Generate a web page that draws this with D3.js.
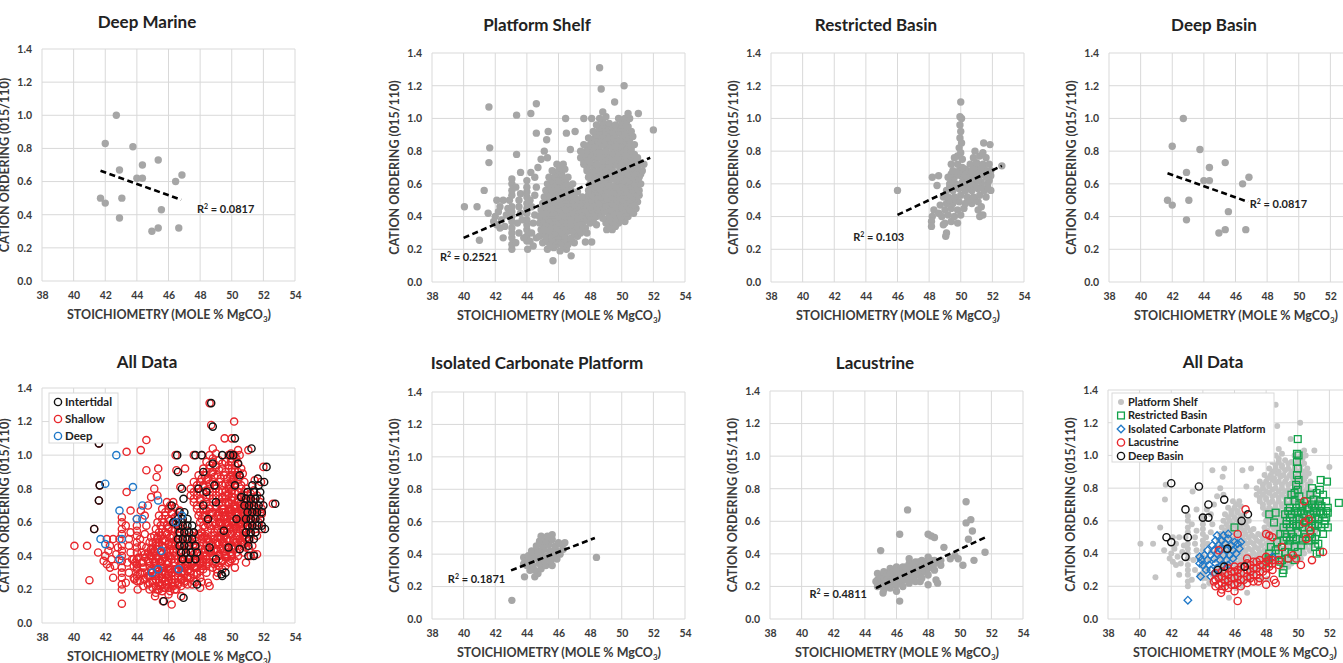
<!DOCTYPE html>
<meta charset="utf-8">
<title>Cation ordering vs stoichiometry</title>
<script src="https://cdn.jsdelivr.net/npm/d3@7"></script>
<style>
  body { margin: 0; background: #fff; }
  text { font-family: Lato, "Open Sans", sans-serif; font-weight: bold; }
</style>
<body>
<script>

var xTicks = [38, 40, 42, 44, 46, 48, 50, 52, 54];
var yTicks = [0, 0.2, 0.4, 0.6, 0.8, 1.0, 1.2, 1.4];

// deep marine / deep basin samples
var deepMarine = [
  [41.7,0.50],[42.0,0.47],[42.0,0.83],[42.7,1.00],[42.9,0.67],[43.05,0.50],[42.9,0.38],[43.75,0.81],
  [44.0,0.62],[44.35,0.62],[44.35,0.70],[45.35,0.73],[45.55,0.43],[44.95,0.30],[45.35,0.32],[46.45,0.60],
  [46.85,0.64],[46.65,0.32]
];

var platformShelf = [
  [48.6,1.31],[48.7,1.18],[50.15,1.2],[49.55,1.1],[41.6,1.07],[43.35,1.02],[44.25,1.03],[44.6,1.09],
  [44.6,0.91],[45.35,0.92],[45.25,0.87],[46.45,1.0],[46.5,0.91],[47.05,0.92],[47.6,1.0],[48.1,1.0],
  [46.75,0.81],[41.65,0.82],[41.6,0.73],[41.3,0.56],[40.05,0.46],[40.85,0.46],[41.0,0.255],[41.55,0.42],
  [43.35,0.78],[43.6,0.67],[44.25,0.67],[43.05,0.2],[44.05,0.2],[45.65,0.13],[46.8,0.16],[52.0,0.93],
  [51.05,1.03],[42.5,0.27],[49.05,0.32],[51.4,0.72],[51.05,0.61],[50.7,0.47],[50.75,0.42],
  [42.1,0.5],[42.5,0.5],[42.9,0.5],[43.5,0.5],[44.2,0.5],
  [42.0,0.4],[42.1,0.35],[42.3,0.33],[42.4,0.38],[42.7,0.41],[42.8,0.45],[42.2,0.43],[41.9,0.37],[42.6,0.34],[42.3,0.46],
  [43.05,0.23],[43.05,0.27],[43.05,0.3],[43.05,0.33],[43.05,0.37],[43.05,0.4],[43.05,0.43],[43.05,0.46],
  [43.05,0.53],[43.05,0.56],[43.05,0.6],[43.05,0.63],
  [44.0,0.25],[44.0,0.28],[44.0,0.32],[44.0,0.35],[44.0,0.38],[44.0,0.42],[44.0,0.45],[44.0,0.48],
  [44.0,0.52],[44.0,0.55],[44.0,0.58],[44.0,0.62],
  [43.5,0.3],[43.4,0.36],[43.6,0.42],[43.5,0.46],[43.6,0.54],[43.3,0.58],[43.3,0.24],[43.7,0.38],[43.8,0.27],
  [44.3,0.3],[44.4,0.36],[44.5,0.41],[44.3,0.46],[44.5,0.53],[44.6,0.58],[44.2,0.25],[44.6,0.27],
  [44.5,0.64],[44.7,0.7],[44.9,0.75],[45.1,0.8],[45.3,0.76],[44.4,0.22],
  [45.3,0.2],[45.7,0.21],[46.1,0.19],[46.5,0.2],
  [45.5,0.22],[45.9,0.23],[46.3,0.22],
  [45.0,0.24],[45.4,0.24],[45.8,0.25],[46.2,0.24],[46.6,0.23],[47.0,0.24],[47.7,0.245],[48.1,0.245],
  [45.2,0.26],[45.6,0.26],[46.0,0.27],[46.4,0.26],[46.8,0.26],
  [44.8,0.28],[45.2,0.28],[45.6,0.29],[46.0,0.28],[46.4,0.28],[46.8,0.27],[47.2,0.28],[47.8,0.3],
  [45.0,0.3],[45.4,0.31],[45.8,0.3],[46.2,0.3],[46.6,0.31],[47.0,0.3],[47.4,0.3],
  [44.9,0.32],[45.3,0.32],[45.7,0.33],[46.1,0.32],[46.5,0.32],[46.9,0.31],[47.3,0.32],[47.7,0.33],[49.4,0.32],[49.8,0.36],
  [45.1,0.34],[45.5,0.34],[45.9,0.35],[46.3,0.34],[46.7,0.34],[47.1,0.34],[47.5,0.35],[49.2,0.34],[49.6,0.34],
  [44.8,0.36],[45.2,0.36],[45.6,0.37],[46.0,0.36],[46.4,0.36],[46.8,0.35],[47.2,0.36],[47.6,0.37],[48.0,0.36],[48.4,0.35],
  [49.0,0.36],[49.4,0.37],[50.2,0.37],
  [45.0,0.38],[45.4,0.38],[45.8,0.39],[46.2,0.38],[46.6,0.38],[47.0,0.38],[47.4,0.39],[47.8,0.38],[48.2,0.38],
  [49.2,0.38],[49.6,0.39],[50.0,0.38],
  [44.8,0.4],[45.2,0.4],[45.6,0.41],[46.0,0.4],[46.4,0.4],[46.8,0.39],[47.2,0.4],[47.6,0.41],[48.0,0.4],[48.4,0.4],
  [48.8,0.39],[49.2,0.4],[49.6,0.41],[50.0,0.4],[50.4,0.4],
  [45.1,0.42],[45.5,0.42],[45.9,0.43],[46.3,0.42],[46.7,0.42],[47.1,0.42],[47.5,0.43],[47.9,0.42],[48.3,0.42],
  [48.7,0.42],[49.1,0.43],[49.5,0.42],[49.9,0.42],[50.3,0.42],
  [44.9,0.44],[45.3,0.44],[45.7,0.45],[46.1,0.44],[46.5,0.44],[46.9,0.43],[47.3,0.44],[47.7,0.45],[48.1,0.44],[48.5,0.44],
  [48.9,0.43],[49.3,0.44],[49.7,0.45],[50.1,0.44],[50.5,0.44],[50.9,0.45],
  [45.2,0.46],[45.6,0.46],[46.0,0.47],[46.4,0.46],[46.8,0.46],[47.2,0.46],[47.6,0.47],[48.0,0.46],[48.4,0.46],
  [48.8,0.46],[49.2,0.47],[49.6,0.46],[50.0,0.46],[50.4,0.46],[50.8,0.47],
  [45.0,0.48],[45.4,0.48],[45.8,0.49],[46.2,0.48],[46.6,0.48],[47.0,0.47],[47.4,0.48],[47.8,0.49],[48.2,0.48],[48.6,0.48],
  [49.0,0.47],[49.4,0.48],[49.8,0.49],[50.2,0.48],[50.6,0.48],[51.0,0.49],
  [45.3,0.5],[45.7,0.5],[46.1,0.51],[46.5,0.5],[46.9,0.5],[47.3,0.5],[47.7,0.51],[48.1,0.5],[48.5,0.5],
  [48.9,0.5],[49.3,0.51],[49.7,0.5],[50.1,0.5],[50.5,0.5],[50.9,0.51],
  [45.1,0.52],[45.5,0.52],[45.9,0.53],[46.3,0.52],[46.7,0.52],[47.1,0.51],[47.5,0.52],[47.9,0.53],[48.3,0.52],[48.7,0.52],
  [49.1,0.51],[49.5,0.52],[49.9,0.53],[50.3,0.52],[50.7,0.52],[51.1,0.53],
  [45.4,0.54],[45.8,0.54],[46.2,0.55],[46.6,0.54],[47.0,0.54],[48.1,0.54],[48.5,0.55],[48.9,0.54],[49.3,0.54],
  [49.7,0.54],[50.1,0.55],[50.5,0.54],[50.9,0.54],
  [45.2,0.56],[45.6,0.56],[46.0,0.57],[46.4,0.56],[46.8,0.56],[47.2,0.55],[47.9,0.56],[48.3,0.57],[48.7,0.56],[49.1,0.56],
  [49.5,0.55],[49.9,0.56],[50.3,0.57],[50.7,0.56],[51.1,0.56],
  [45.5,0.58],[45.9,0.58],[46.3,0.59],[46.7,0.58],[48.2,0.58],[48.6,0.58],[49.0,0.59],[49.4,0.58],[49.8,0.58],
  [50.2,0.58],[50.6,0.59],[51.0,0.58],
  [45.3,0.6],[45.7,0.6],[46.1,0.61],[46.5,0.6],[46.9,0.6],[48.0,0.6],[48.4,0.61],[48.8,0.6],[49.2,0.6],[49.6,0.59],
  [50.0,0.6],[50.4,0.61],[50.8,0.6],[51.2,0.6],
  [45.6,0.62],[46.0,0.62],[46.4,0.63],[48.1,0.62],[48.5,0.62],[48.9,0.62],[49.3,0.63],[49.7,0.62],[50.1,0.62],
  [50.5,0.62],[50.9,0.63],
  [45.4,0.64],[45.8,0.64],[46.2,0.65],[46.6,0.64],[47.9,0.64],[48.3,0.64],[48.7,0.65],[49.1,0.64],[49.5,0.63],[49.9,0.64],
  [50.3,0.65],[50.7,0.64],[51.1,0.64],
  [45.8,0.66],[46.2,0.66],[48.0,0.66],[48.4,0.67],[48.8,0.66],[49.2,0.66],[49.6,0.66],[50.0,0.67],[50.4,0.66],
  [50.8,0.66],[51.2,0.66],
  [45.6,0.68],[46.0,0.68],[46.4,0.69],[47.8,0.68],[48.2,0.68],[48.6,0.68],[49.0,0.69],[49.4,0.68],[49.8,0.67],[50.2,0.68],
  [50.6,0.69],[51.0,0.68],[51.3,0.68],
  [46.1,0.7],[47.8,0.7],[48.2,0.71],[48.6,0.7],[49.0,0.7],[49.4,0.7],[49.8,0.71],[50.2,0.7],[50.6,0.7],[51.0,0.7],
  [45.9,0.72],[46.3,0.72],[47.6,0.72],[48.0,0.73],[48.4,0.72],[48.8,0.72],[49.2,0.71],[49.6,0.72],[50.0,0.73],[50.4,0.72],
  [50.8,0.72],[51.2,0.73],
  [47.6,0.74],[48.0,0.74],[48.4,0.75],[48.8,0.74],[49.2,0.74],[49.6,0.74],[50.0,0.75],[50.4,0.74],[50.8,0.74],
  [47.4,0.76],[47.8,0.76],[48.2,0.77],[48.6,0.76],[49.0,0.76],[49.4,0.75],[49.8,0.76],[50.2,0.77],[50.6,0.76],[51.0,0.76],
  [47.6,0.78],[48.0,0.78],[48.4,0.79],[48.8,0.78],[49.2,0.78],[49.6,0.78],[50.0,0.79],[50.4,0.78],[50.8,0.78],
  [47.4,0.8],[47.8,0.8],[48.2,0.81],[48.6,0.8],[49.0,0.8],[49.4,0.79],[49.8,0.8],[50.2,0.81],[50.6,0.8],
  [47.8,0.82],[48.2,0.82],[48.6,0.83],[49.0,0.82],[49.4,0.82],[49.8,0.82],[50.2,0.83],[50.6,0.82],
  [47.6,0.84],[48.0,0.84],[48.4,0.85],[48.8,0.84],[49.2,0.84],[49.6,0.83],[50.0,0.84],[50.4,0.85],[50.8,0.84],
  [48.1,0.86],[48.5,0.86],[48.9,0.87],[49.3,0.86],[49.7,0.86],[50.1,0.86],[50.5,0.87],
  [47.9,0.88],[48.3,0.88],[48.7,0.89],[49.1,0.88],[49.5,0.88],[49.9,0.87],[50.3,0.88],[50.7,0.89],
  [48.4,0.9],[48.8,0.9],[49.2,0.91],[49.6,0.9],[50.0,0.9],[50.4,0.9],
  [48.2,0.92],[48.6,0.92],[49.0,0.93],[49.4,0.92],[49.8,0.92],[50.2,0.91],[50.6,0.92],
  [48.6,0.94],[49.0,0.94],[49.4,0.95],[49.8,0.94],[50.2,0.94],
  [48.4,0.96],[48.8,0.96],[49.2,0.97],[49.6,0.96],[50.0,0.96],[50.4,0.95],
  [48.8,0.98],[50.0,0.98],[50.3,0.98],
  [48.6,1.0],[49.0,1.01],[49.8,1.0],[50.2,1.0],[50.5,1.0],[48.8,1.04],[50.4,1.03]
];

var restrictedBasin = [
  [46.0,0.56],[50.0,1.1],[49.95,1.01],[50.05,1.0],[49.95,0.96],[50.0,0.92],[49.95,0.88],[50.05,0.85],
  [49.9,0.82],[50.0,0.79],[49.8,0.77],[50.1,0.75],[51.45,0.85],[51.85,0.84],[52.6,0.71],
  [48.2,0.64],[48.6,0.65],[48.5,0.59],[48.3,0.44],[48.2,0.4],[48.15,0.37],[48.15,0.34],[48.6,0.42],
  [48.9,0.35],[49.1,0.3],[49.05,0.28],[48.7,0.47],[48.9,0.52],
  [49.0,0.36],[49.4,0.37],[49.8,0.36],
  [48.8,0.4],[49.2,0.41],[49.6,0.4],[50.0,0.41],[51.2,0.4],[51.4,0.41],
  [49.0,0.44],[49.4,0.45],[49.8,0.44],[50.2,0.45],[51.1,0.44],[51.3,0.46],
  [49.1,0.48],[49.5,0.48],[49.9,0.49],[50.3,0.48],[50.7,0.48],[51.1,0.49],
  [49.3,0.5],[49.7,0.5],[50.5,0.5],[50.9,0.5],
  [49.2,0.52],[49.6,0.52],[50.0,0.53],[50.4,0.52],[50.8,0.52],[51.2,0.53],[51.6,0.52],
  [49.1,0.56],[49.5,0.56],[49.9,0.57],[50.3,0.56],[50.7,0.56],[51.1,0.57],[51.5,0.56],[51.9,0.56],
  [49.3,0.58],[49.7,0.58],[50.1,0.58],[50.5,0.59],[50.9,0.58],[51.3,0.58],[51.7,0.58],
  [49.3,0.6],[49.7,0.6],[50.1,0.61],[50.5,0.6],[50.9,0.6],[51.3,0.61],[51.7,0.6],
  [49.5,0.62],[50.3,0.62],[51.1,0.62],[51.8,0.62],
  [49.2,0.64],[49.6,0.64],[50.0,0.65],[50.4,0.64],[50.8,0.64],[51.2,0.65],[51.6,0.64],[51.9,0.65],
  [49.4,0.66],[49.8,0.66],[50.2,0.66],[50.6,0.67],[51.0,0.66],[51.4,0.66],[51.8,0.66],
  [49.5,0.68],[49.9,0.68],[50.3,0.69],[50.7,0.68],[51.1,0.68],[51.5,0.69],[51.9,0.68],
  [50.1,0.7],[50.9,0.7],[51.3,0.7],
  [49.4,0.72],[49.8,0.72],[50.6,0.72],[51.0,0.73],[51.4,0.72],[51.8,0.72],
  [49.6,0.76],[50.8,0.76],[51.2,0.77],[51.6,0.76],[50.9,0.8],[51.4,0.79]
];

var isolatedPlatform = [
  [43.05,0.115],[43.85,0.26],[44.5,0.26],[48.4,0.38],[44.7,0.28],[44.2,0.3],[43.8,0.38],[43.8,0.34],
  [44.5,0.3],[44.9,0.31],
  [44.0,0.33],[44.4,0.33],[44.8,0.34],[45.2,0.33],[45.6,0.33],
  [43.9,0.36],[44.3,0.36],[44.7,0.37],[45.1,0.36],[45.5,0.36],[45.9,0.37],
  [44.1,0.39],[44.5,0.39],[44.9,0.4],[45.3,0.39],[45.7,0.39],[46.1,0.4],
  [44.3,0.42],[44.7,0.42],[45.1,0.43],[45.5,0.42],[45.9,0.42],[46.3,0.43],
  [44.6,0.45],[45.0,0.45],[45.4,0.46],[45.8,0.45],[46.2,0.46],
  [44.8,0.48],[45.2,0.48],[45.6,0.49],[46.0,0.47],[46.4,0.47],
  [44.9,0.51],[45.3,0.51],[45.6,0.52]
];

var lacustrine = [
  [46.7,0.67],[50.4,0.72],[50.4,0.59],[50.7,0.61],[50.8,0.54],[50.55,0.49],[51.6,0.41],[50.9,0.36],
  [50.2,0.33],[46.2,0.52],[48.0,0.52],[48.2,0.51],[48.4,0.5],[45.0,0.42],[49.0,0.44],[49.7,0.39],
  [49.9,0.37],[49.4,0.37],[48.5,0.24],[48.6,0.22],[48.0,0.21],[46.2,0.11],[45.15,0.16],[47.5,0.23],
  [44.8,0.2],[44.8,0.24],[44.8,0.28],[44.7,0.23],
  [45.0,0.21],[45.0,0.25],
  [45.2,0.18],[45.2,0.22],[45.2,0.26],[45.2,0.29],
  [45.4,0.2],[45.4,0.24],[45.4,0.28],
  [45.6,0.19],[45.6,0.23],[45.6,0.27],[45.6,0.31],
  [45.8,0.21],[45.8,0.25],[45.8,0.29],
  [46.0,0.17],[46.0,0.21],[46.0,0.25],[46.0,0.29],[46.0,0.32],
  [46.2,0.22],[46.2,0.26],[46.2,0.3],
  [46.4,0.2],[46.4,0.24],[46.4,0.28],[46.4,0.32],
  [46.6,0.24],[46.6,0.28],[46.6,0.32],
  [46.8,0.22],[46.8,0.26],[46.8,0.3],[46.8,0.34],[46.8,0.37],
  [47.0,0.25],[47.0,0.29],[47.0,0.33],
  [47.2,0.23],[47.2,0.27],[47.2,0.31],[47.2,0.35],
  [47.4,0.27],[47.4,0.31],[47.4,0.35],
  [47.6,0.25],[47.6,0.29],[47.6,0.33],[47.6,0.36],
  [47.8,0.29],[47.8,0.33],
  [48.0,0.27],[48.0,0.31],[48.0,0.35],[48.0,0.38],
  [48.2,0.32],[48.2,0.36],
  [48.4,0.3],[48.4,0.34],[48.4,0.36],[48.8,0.33],[48.8,0.36]
];

// bottom-left "All Data": points marked as intertidal
var intertidal = [
  [48.7,1.31],[48.8,1.17],[50.2,1.1],[41.6,1.07],[41.65,0.82],[41.6,0.73],[41.3,0.56],[46.55,1.0],
  [46.6,0.9],[46.85,0.8],[47.7,1.0],[48.1,1.0],[51.25,1.04],[52.2,0.93],[52.75,0.71],[52.05,0.84],
  [51.65,0.86],[52.1,0.56],[50.5,0.44],[51.05,0.46],[51.4,0.4],[51.05,0.4],[49.35,0.29],[47.8,0.23],
  [46.95,0.15],[45.7,0.13],[46.95,0.74],
  [46.7,0.66],[47.0,0.66],
  [46.6,0.62],[46.9,0.62],[47.2,0.62],
  [46.6,0.58],[46.9,0.58],[47.2,0.58],[47.5,0.58],
  [46.7,0.54],[47.0,0.54],[47.3,0.54],[47.6,0.54],
  [46.6,0.5],[46.9,0.5],[47.2,0.5],[47.5,0.5],
  [46.7,0.46],[47.0,0.46],[47.3,0.46],[47.7,0.46],
  [46.8,0.42],[47.1,0.42],[47.4,0.42],[47.8,0.42],
  [46.9,0.38],[47.3,0.38],[47.7,0.38],
  [51.3,0.82],[51.7,0.82],
  [51.0,0.78],[51.4,0.78],[51.8,0.78],
  [50.9,0.74],[51.2,0.74],[51.5,0.74],[51.8,0.74],
  [50.8,0.7],[51.1,0.7],[51.4,0.7],[51.7,0.7],[52.0,0.7],
  [51.0,0.66],[51.3,0.66],[51.6,0.66],[51.9,0.66],
  [50.9,0.62],[51.2,0.62],[51.5,0.62],[51.8,0.62],
  [51.0,0.58],[51.3,0.58],[51.6,0.58],[51.9,0.58],
  [50.9,0.54],[51.2,0.54],[51.5,0.54],[51.1,0.5],[51.4,0.5],
  [48.2,0.9],[48.8,0.95],[49.4,1.0],[49.9,1.0],[50.1,1.0],[50.4,0.95],[50.5,0.88],[50.2,0.82],
  [49.0,0.72],[48.5,0.62],[49.5,0.55],[49.8,0.45],[49.0,0.38],[48.6,0.45],[50.3,0.62],[50.6,0.75],
  [48.9,0.82],[48.4,0.78],[47.9,0.8],[48.2,0.7],[49.6,0.3],[49.4,0.28],[46.3,0.6],[46.2,0.7]
];

// dashed linear trend lines, end points
var trendDeep = [[41.7,0.665],[46.8,0.49]];
var trendShelf = [[40.0,0.27],[51.8,0.76]];
var trendRestricted = [[46.0,0.41],[52.6,0.71]];
var trendIsolated = [[43.0,0.30],[48.3,0.50]];
var trendLacustrine = [[44.7,0.19],[51.6,0.50]];

var legendLeft = ["Intertidal", "Shallow", "Deep"];
var legendRight = ["Platform Shelf", "Restricted Basin", "Isolated Carbonate Platform", "Lacustrine", "Deep Basin"];

var GREY = "#a6a6a6", RED = "#e8262b", BLUE = "#1f78c8", GREEN = "#12a24a";

var panels = [
  {title: "Deep Marine", left: 42, top: 49, bottom: 281, titleY: 28,
   layers: [{data: deepMarine, mark: "dot", color: GREY}], trend: trendDeep, r2: "0.0817", r2At: [47.8, 0.413]},
  {title: "Platform Shelf", left: 432, top: 53, bottom: 282, titleY: 31,
   layers: [{data: platformShelf, mark: "dot", color: GREY}], trend: trendShelf, r2: "0.2521", r2At: [38.5, 0.131]},
  {title: "Restricted Basin", left: 771, top: 53, bottom: 282, titleY: 31,
   layers: [{data: restrictedBasin, mark: "dot", color: GREY}], trend: trendRestricted, r2: "0.103", r2At: [43.2, 0.248]},
  {title: "Deep Basin", left: 1109, top: 53, bottom: 282, titleY: 31,
   layers: [{data: deepMarine, mark: "dot", color: GREY}], trend: trendDeep, r2: "0.0817", r2At: [46.9, 0.455]},
  {title: "All Data", left: 42, top: 388, bottom: 623, titleY: 368,
   layers: [
     {data: platformShelf.concat(isolatedPlatform, lacustrine, restrictedBasin), mark: "circle", color: RED},
     {data: intertidal, mark: "circle", color: "#111"},
     {data: deepMarine, mark: "circle", color: BLUE}],
   legend: {x: 49, y: 393, w: 69, h: 50, step: 17, size: 11.5, labels: legendLeft,
            marks: [["circle", "#111"], ["circle", RED], ["circle", BLUE]]}},
  {title: "Isolated Carbonate Platform", left: 432, top: 392, bottom: 619, titleY: 369,
   layers: [{data: isolatedPlatform, mark: "dot", color: GREY}], trend: trendIsolated, r2: "0.1871", r2At: [39.0, 0.219]},
  {title: "Lacustrine", left: 770, top: 391, bottom: 619, titleY: 369,
   layers: [{data: lacustrine, mark: "dot", color: GREY}], trend: trendLacustrine, r2: "0.4811", r2At: [40.5, 0.126]},
  {title: "All Data", left: 1108, top: 390, bottom: 619, titleY: 368,
   layers: [
     {data: platformShelf, mark: "smalldot", color: "#c4c4c4"},
     {data: restrictedBasin, mark: "square", color: GREEN},
     {data: isolatedPlatform, mark: "diamond", color: BLUE},
     {data: lacustrine, mark: "circle", color: RED},
     {data: deepMarine, mark: "circle", color: "#111"}],
   legend: {x: 1112, y: 393, w: 162, h: 69, step: 13.5, size: 11, labels: legendRight,
            marks: [["smalldot", "#c4c4c4"], ["square", GREEN], ["diamond", BLUE], ["circle", RED], ["circle", "#111"]]}}
];

var svg = d3.select("body").append("svg")
    .attr("width", 1343)
    .attr("height", 663);

function drawMark(sel, mark, color) {
  if (mark == "dot" || mark == "smalldot") {
    sel.append("circle").attr("r", mark == "dot" ? 3.7 : 3).attr("fill", color);
  } else if (mark == "circle") {
    sel.append("circle").attr("r", 3.6).attr("fill", "none").attr("stroke", color).attr("stroke-width", 1.4);
  } else if (mark == "square") {
    sel.append("rect").attr("x", -3.4).attr("y", -3.4).attr("width", 6.8).attr("height", 6.8)
      .attr("fill", "none").attr("stroke", color).attr("stroke-width", 1.3);
  } else {
    sel.append("path").attr("d", "M0,-3.8L3.8,0L0,3.8L-3.8,0Z")
      .attr("fill", "none").attr("stroke", color).attr("stroke-width", 1.3);
  }
}

panels.forEach(function (p) {
  var x = d3.scaleLinear().domain([38, 54]).range([p.left, p.left + 253]);
  var y = d3.scaleLinear().domain([0, 1.4]).range([p.bottom, p.top]);
  var g = svg.append("g");

  // grid
  g.selectAll(".vg").data(xTicks).enter().append("line")
    .attr("x1", function (d) { return x(d) }).attr("x2", function (d) { return x(d) })
    .attr("y1", p.top).attr("y2", p.bottom)
    .attr("stroke", "#d9d9d9");
  g.selectAll(".hg").data(yTicks).enter().append("line")
    .attr("x1", p.left).attr("x2", x(54))
    .attr("y1", function (d) { return y(d) }).attr("y2", function (d) { return y(d) })
    .attr("stroke", "#d9d9d9");

  var xa = g.append("g").attr("transform", "translate(0," + p.bottom + ")")
    .call(d3.axisBottom(x).tickValues(xTicks).tickSize(0).tickPadding(11));
  var ya = g.append("g").attr("transform", "translate(" + p.left + ",0)")
    .call(d3.axisLeft(y).tickValues(yTicks).tickSize(0).tickPadding(10).tickFormat(d3.format(".1f")));
  [xa, ya].forEach(function (a) {
    a.select(".domain").remove();
    a.selectAll("text").attr("font-family", "Lato, sans-serif").attr("font-size", 10.5).attr("fill", "#3a3a3a");
  });

  // titles
  g.append("text").attr("x", p.left + 105).attr("y", p.titleY)
    .attr("text-anchor", "middle").attr("font-size", 17).attr("fill", "#222").text(p.title);

  g.append("text")
    .attr("transform", "translate(" + (p.left - 37) + "," + ((p.top + p.bottom) / 2) + ") rotate(-90)")
    .attr("text-anchor", "middle").attr("dy", "0.35em").attr("font-size", 12.5).attr("fill", "#3a3a3a")
    .text("CATION ORDERING (015/110)");

  var xt = g.append("text").attr("x", p.left + 127).attr("y", p.bottom + 38)
    .attr("text-anchor", "middle").attr("font-size", 12.5).attr("fill", "#3a3a3a");
  xt.append("tspan").text("STOICHIOMETRY (MOLE % MgCO");
  xt.append("tspan").attr("dy", 3).attr("font-size", 8).text("3");
  xt.append("tspan").attr("dy", -3).text(")");

  // points
  p.layers.forEach(function (layer) {
    g.append("g").selectAll("g").data(layer.data).enter().append("g")
      .attr("transform", function (d) { return "translate(" + x(d[0]) + "," + y(d[1]) + ")" })
      .each(function () { drawMark(d3.select(this), layer.mark, layer.color) });
  });

  if (p.trend) {
    g.append("path").datum(p.trend)
      .attr("d", d3.line().x(function (d) { return x(d[0]) }).y(function (d) { return y(d[1]) }))
      .attr("stroke", "#000").attr("stroke-width", 2.6).attr("stroke-dasharray", "6,3.5").attr("fill", "none");
    var rt = g.append("text").attr("x", x(p.r2At[0])).attr("y", y(p.r2At[1]))
      .attr("font-size", 11).attr("fill", "#222");
    rt.append("tspan").text("R");
    rt.append("tspan").attr("dy", -4).attr("font-size", 7).text("2");
    rt.append("tspan").attr("dy", 4).text(" = " + p.r2);
  }

  if (p.legend) {
    var L = p.legend;
    g.append("rect").attr("x", L.x).attr("y", L.y).attr("width", L.w).attr("height", L.h)
      .attr("fill", "#fff").attr("stroke", "#d9d9d9");
    L.labels.forEach(function (lab, i) {
      var cy = L.y + 9 + i * L.step;
      var m = g.append("g").attr("transform", "translate(" + (L.x + 9) + "," + cy + ")");
      drawMark(m, L.marks[i][0], L.marks[i][1]);
      g.append("text").attr("x", L.x + 16).attr("y", cy).attr("dy", "0.35em")
        .attr("font-size", L.size).attr("fill", "#222").text(lab);
    });
  }
});

</script>
